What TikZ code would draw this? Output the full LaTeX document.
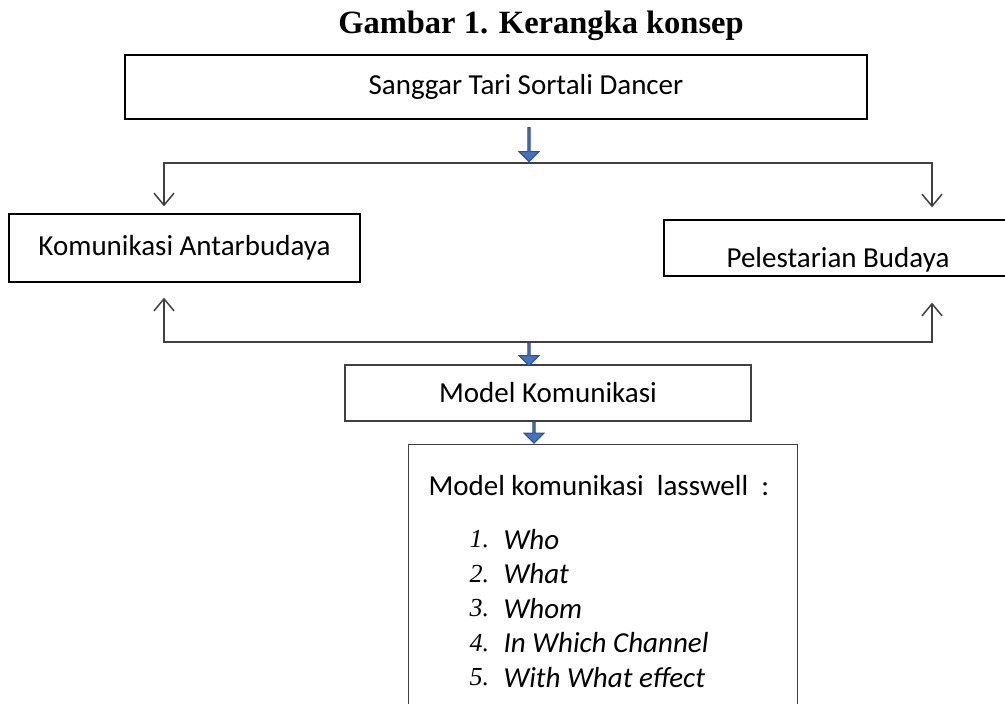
\documentclass[tikz,border=0pt]{standalone}
\usepackage{fontspec}
\setmainfont{Carlito}
\newfontfamily\timesfont{Liberation Serif}
\usetikzlibrary{arrows.meta,shapes.arrows}

\definecolor{arrowfill}{HTML}{4472C4}
\definecolor{arrowline}{HTML}{2F528F}
\definecolor{boxline}{HTML}{404040}

\begin{document}
\begin{tikzpicture}[x=1pt,y=-1pt,
  box/.style={draw,line width=1.3pt,inner sep=0pt,font=\fontsize{29}{34}\selectfont},
  conn/.style={draw=boxline,line width=1.5pt,{Straight Barb[length=12pt,width=20pt]}-{Straight Barb[length=12pt,width=20pt]}},
  blue arrow/.style={single arrow,draw=arrowline,fill=arrowfill,line width=1pt,
    shape border rotate=270,inner sep=0pt,minimum width=20pt,
    single arrow head extend=4pt,single arrow head indent=0pt},
  list num/.style={anchor=west,font=\timesfont\itshape\fontsize{26}{30}\selectfont},
  list text/.style={anchor=west,font=\itshape\fontsize{29}{34}\selectfont}]

  \useasboundingbox (0,0) rectangle (1005,704);

  \node[font=\timesfont\bfseries\fontsize{32.5}{36}\selectfont] (title) at (541,26) {Gambar 1. Kerangka konsep};

  \node[box,minimum width=742pt,minimum height=64pt] (top) at (496,87) {\hspace*{60pt}Sanggar Tari Sortali Dancer};
  \node[box,minimum width=351pt,minimum height=68pt] (kom) at (184.5,248) {Komunikasi Antarbudaya};
  \node[box,minimum width=348pt,minimum height=56pt] (pel) at (838,248) {\raisebox{-19pt}[0pt][0pt]{Pelestarian Budaya}};
  \node[box,draw=boxline,minimum width=406pt,minimum height=56pt] (model) at (548,393) {Model Komunikasi};
  \node[box,draw=boxline,minimum width=389pt,minimum height=320pt,anchor=north west] (lass) at (408,444) {};

  % blue block arrows
  \node[blue arrow,minimum height=34pt] (a1) at (529,144) {};
  \node[blue arrow,minimum height=23pt] (a2) at (529,353.5) {};
  \node[blue arrow,minimum height=21pt] (a3) at (534,432) {};

  \coordinate (tl) at (164,163);
  \coordinate (tr) at (932,163);
  \coordinate (bl) at (164,342);
  \coordinate (br) at (932,342);

  \draw[conn,shorten <=7pt,shorten >=12pt] (tl |- kom.north) -- (tl) -- (tr) -- (tr |- pel.north);
  \draw[conn,shorten <=15pt,shorten >=26pt] (bl |- kom.south) -- (bl) -- (br) -- (br |- pel.south);

  % lasswell list
  \node[anchor=west,font=\fontsize{29}{34}\selectfont] (lhead) at (425,486) {Model komunikasi\ \ lasswell\ \ :};
  \foreach \t [count=\i] in {Who,What,Whom,In Which Channel,With What effect}
  {
    \node[list num] (n\i) at (466,505+34.5*\i) {\i.};
    \node[list text] (t\i) at (500,505+34.5*\i) {\t};
  }
\end{tikzpicture}
\end{document}
